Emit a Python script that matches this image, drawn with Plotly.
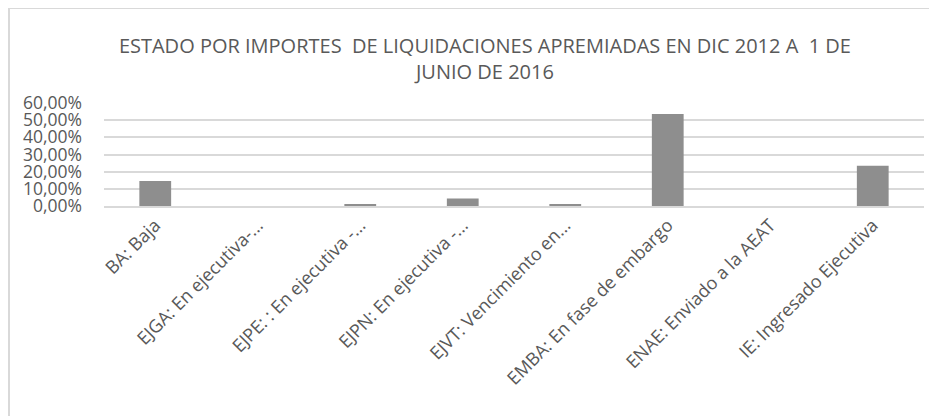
import plotly.graph_objects as go

categories = [
    "BA: Baja",
    "EJGA: En ejecutiva-...",
    "EJPE: : En ejecutiva -...",
    "EJPN: En ejecutiva -...",
    "EJVT: Vencimiento en...",
    "EMBA: En fase de embargo",
    "ENAE: Enviado a la AEAT",
    "IE: Ingresado Ejecutiva",
]
values = [14.6, 0.0, 0.7, 4.3, 1.1, 53.6, 0.0, 23.5]
y_ticks = [0, 10, 20, 30, 40, 50, 60]
y_tick_labels = ["0,00%", "10,00%", "20,00%", "30,00%", "40,00%", "50,00%", "60,00%"]
title_text = "ESTADO POR IMPORTES  DE LIQUIDACIONES APREMIADAS EN DIC 2012 A  1 DE<br>JUNIO DE 2016"

W, H = 937, 416
L, R, T, B = 96, 21, 95, 218
pw, ph = W - L - R, H - T - B

def px_to_paper_x(px):
    return (px - L) / pw

def px_to_paper_y(py):
    return (H - B - py) / ph

font_fam = "Open Sans, Liberation Sans, sans-serif"
grey = "#595959"

fig = go.Figure(
    go.Bar(
        x=categories,
        y=values,
        marker=dict(color="#8e8e8e", line=dict(width=0)),
        hoverinfo="skip",
    )
)

border_color = "#d9d9d9"
fig.add_shape(type="line", xref="paper", yref="paper",
              x0=px_to_paper_x(1), x1=px_to_paper_x(1),
              y0=px_to_paper_y(0), y1=px_to_paper_y(430),
              line=dict(color=border_color, width=2))
fig.add_shape(type="line", xref="paper", yref="paper",
              x0=px_to_paper_x(1), x1=px_to_paper_x(960),
              y0=px_to_paper_y(0), y1=px_to_paper_y(0),
              line=dict(color=border_color, width=2))

fig.update_layout(
    width=W, height=H,
    margin=dict(l=L, r=R, t=T, b=B, autoexpand=False),
    paper_bgcolor="white", plot_bgcolor="white",
    bargap=0.69,
    showlegend=False,
    title=dict(text=title_text, x=0.509, xanchor="center", y=1 - 44.5 / H, yanchor="middle",
               font=dict(family=font_fam, size=20, color=grey)),
    font=dict(family=font_fam, color=grey),
)
fig.update_xaxes(
    tickangle=-45, tickfont=dict(size=18, color=grey),
    showgrid=False, showline=True, linecolor="#d9d9d9", linewidth=1.5,
    ticks="", fixedrange=True, automargin=False,
)
fig.update_yaxes(
    range=[0, 60], tickvals=y_ticks, ticktext=y_tick_labels,
    tickfont=dict(size=17.5, color=grey),
    showgrid=True, gridcolor="#d9d9d9", gridwidth=1.5,
    zeroline=False, showline=False, ticks="", ticklabelstandoff=21,
    fixedrange=True, automargin=False,
)

fig.write_html("out.html", config={"displayModeBar": False})
